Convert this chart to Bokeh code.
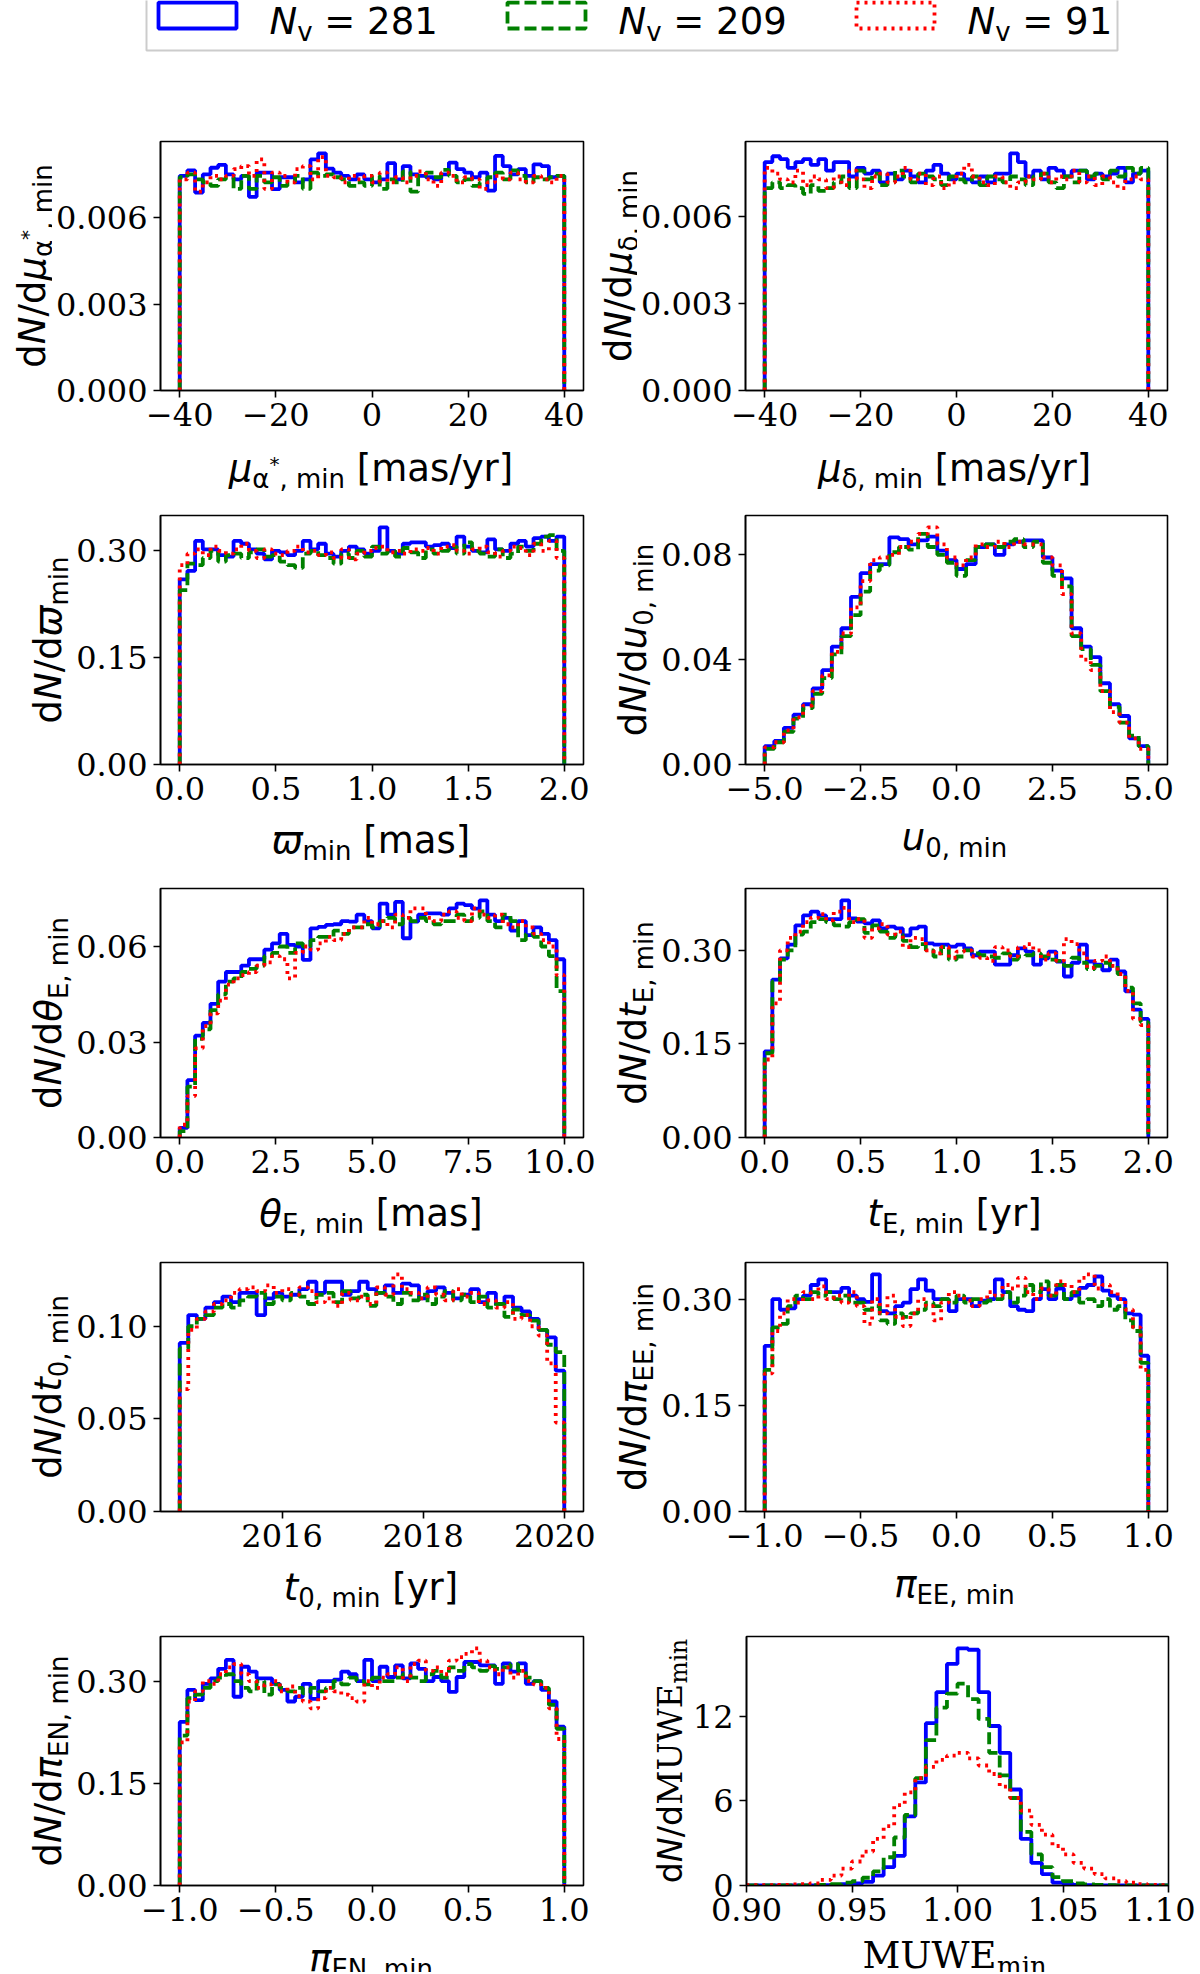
import math

import numpy as np
from bokeh.core.properties import value
from bokeh.embed import file_html
from bokeh.layouts import column, row
from bokeh.models import FixedTicker, Range1d
from bokeh.plotting import figure
from bokeh.resources import INLINE

BLUE, GREEN, RED = "#0000ff", "#008000", "#ff0000"
LEGEND_NAMES = ["281", "209", "91"]

# ---------------------------------------------------------------- data
# each panel: bin range, then density per bin for N_v = 281 / 209 / 91

MU_RA_RANGE = (-40.0, 40.0)
MU_RA_281 = [0.00745, 0.00764, 0.00687, 0.00750, 0.00773, 0.00783, 0.00750, 0.00733, 0.00745, 0.00672,
             0.00756, 0.00756, 0.00699, 0.00740, 0.00740, 0.00722, 0.00733, 0.00802, 0.00823, 0.00770,
             0.00756, 0.00745, 0.00733, 0.00750, 0.00733, 0.00722, 0.00733, 0.00789, 0.00733, 0.00779,
             0.00750, 0.00745, 0.00740, 0.00733, 0.00750, 0.00791, 0.00768, 0.00756, 0.00740, 0.00756,
             0.00694, 0.00814, 0.00779, 0.00750, 0.00768, 0.00745, 0.00785, 0.00779, 0.00740, 0.00745]
MU_RA_209 = [0.00740, 0.00750, 0.00733, 0.00722, 0.00710, 0.00733, 0.00740, 0.00700, 0.00745, 0.00700,
             0.00745, 0.00722, 0.00740, 0.00710, 0.00722, 0.00745, 0.00700, 0.00756, 0.00745, 0.00750,
             0.00740, 0.00733, 0.00710, 0.00722, 0.00710, 0.00745, 0.00700, 0.00733, 0.00722, 0.00760,
             0.00690, 0.00745, 0.00756, 0.00740, 0.00766, 0.00745, 0.00722, 0.00733, 0.00710, 0.00722,
             0.00740, 0.00756, 0.00733, 0.00764, 0.00745, 0.00722, 0.00740, 0.00733, 0.00740, 0.00745]
MU_RA_91 = [0.00733, 0.00756, 0.00690, 0.00722, 0.00745, 0.00733, 0.00745, 0.00768, 0.00779, 0.00745,
            0.00802, 0.00700, 0.00756, 0.00745, 0.00722, 0.00768, 0.00779, 0.00733, 0.00810, 0.00745,
            0.00740, 0.00722, 0.00745, 0.00733, 0.00745, 0.00722, 0.00756, 0.00722, 0.00740, 0.00722,
            0.00745, 0.00760, 0.00733, 0.00710, 0.00756, 0.00745, 0.00722, 0.00740, 0.00733, 0.00700,
            0.00722, 0.00745, 0.00733, 0.00756, 0.00733, 0.00722, 0.00745, 0.00733, 0.00722, 0.00745]

MU_DEC_RANGE = (-40.0, 40.0)
MU_DEC_281 = [0.00790, 0.00810, 0.00800, 0.00770, 0.00790, 0.00800, 0.00780, 0.00800, 0.00760, 0.00790,
              0.00790, 0.00740, 0.00770, 0.00750, 0.00760, 0.00720, 0.00750, 0.00730, 0.00760, 0.00740,
              0.00720, 0.00760, 0.00780, 0.00750, 0.00730, 0.00750, 0.00730, 0.00720, 0.00740, 0.00720,
              0.00750, 0.00750, 0.00820, 0.00790, 0.00740, 0.00760, 0.00730, 0.00770, 0.00760, 0.00740,
              0.00760, 0.00760, 0.00730, 0.00750, 0.00740, 0.00750, 0.00770, 0.00720, 0.00750, 0.00760]
MU_DEC_209 = [0.00700, 0.00720, 0.00700, 0.00710, 0.00700, 0.00680, 0.00710, 0.00690, 0.00700, 0.00720,
              0.00740, 0.00700, 0.00760, 0.00730, 0.00750, 0.00710, 0.00720, 0.00760, 0.00740, 0.00720,
              0.00750, 0.00740, 0.00730, 0.00710, 0.00740, 0.00730, 0.00720, 0.00740, 0.00710, 0.00740,
              0.00730, 0.00720, 0.00740, 0.00730, 0.00710, 0.00740, 0.00750, 0.00720, 0.00700, 0.00740,
              0.00720, 0.00760, 0.00740, 0.00750, 0.00730, 0.00760, 0.00740, 0.00770, 0.00750, 0.00770]
MU_DEC_91 = [0.00770, 0.00750, 0.00730, 0.00720, 0.00760, 0.00710, 0.00740, 0.00730, 0.00700, 0.00740,
             0.00710, 0.00760, 0.00730, 0.00700, 0.00740, 0.00750, 0.00720, 0.00740, 0.00770, 0.00730,
             0.00750, 0.00710, 0.00740, 0.00700, 0.00720, 0.00750, 0.00780, 0.00740, 0.00720, 0.00710,
             0.00740, 0.00720, 0.00700, 0.00720, 0.00740, 0.00730, 0.00750, 0.00720, 0.00740, 0.00730,
             0.00760, 0.00720, 0.00740, 0.00710, 0.00740, 0.00720, 0.00700, 0.00730, 0.00740, 0.00730]

PLX_RANGE = (0.0, 2.0)
PLX_281 = [0.260, 0.272, 0.314, 0.302, 0.302, 0.294, 0.292, 0.314, 0.310, 0.302,
           0.296, 0.288, 0.300, 0.298, 0.294, 0.300, 0.314, 0.302, 0.310, 0.296,
           0.292, 0.300, 0.306, 0.302, 0.296, 0.300, 0.333, 0.300, 0.296, 0.310,
           0.312, 0.312, 0.306, 0.308, 0.310, 0.304, 0.320, 0.306, 0.300, 0.298,
           0.316, 0.302, 0.300, 0.310, 0.314, 0.306, 0.318, 0.320, 0.314, 0.320]
PLX_209 = [0.245, 0.282, 0.280, 0.290, 0.300, 0.285, 0.294, 0.296, 0.290, 0.298,
           0.302, 0.292, 0.294, 0.285, 0.280, 0.276, 0.296, 0.300, 0.294, 0.290,
           0.282, 0.296, 0.290, 0.300, 0.292, 0.306, 0.296, 0.300, 0.292, 0.304,
           0.298, 0.290, 0.302, 0.296, 0.300, 0.306, 0.296, 0.312, 0.300, 0.296,
           0.292, 0.302, 0.290, 0.296, 0.306, 0.300, 0.310, 0.320, 0.322, 0.300]
PLX_91 = [0.280, 0.296, 0.302, 0.294, 0.306, 0.300, 0.296, 0.302, 0.310, 0.300,
          0.290, 0.302, 0.296, 0.294, 0.300, 0.306, 0.298, 0.300, 0.294, 0.298,
          0.290, 0.302, 0.288, 0.296, 0.300, 0.304, 0.306, 0.298, 0.300, 0.296,
          0.302, 0.300, 0.304, 0.296, 0.306, 0.308, 0.300, 0.296, 0.302, 0.306,
          0.298, 0.292, 0.300, 0.306, 0.304, 0.294, 0.310, 0.300, 0.314, 0.290]

U0_RANGE = (-5.0, 5.0)
U0_281 = [0.0070, 0.0090, 0.0140, 0.0190, 0.0230, 0.0290, 0.0360, 0.0450, 0.0520, 0.0640,
          0.0730, 0.0765, 0.0765, 0.0867, 0.0860, 0.0840, 0.0855, 0.0870, 0.0816, 0.0780,
          0.0746, 0.0765, 0.0830, 0.0840, 0.0800, 0.0840, 0.0850, 0.0855, 0.0855, 0.0790,
          0.0740, 0.0710, 0.0520, 0.0450, 0.0410, 0.0310, 0.0230, 0.0185, 0.0100, 0.0070]
U0_209 = [0.0060, 0.0085, 0.0125, 0.0175, 0.0215, 0.0270, 0.0330, 0.0420, 0.0490, 0.0570,
          0.0660, 0.0740, 0.0760, 0.0810, 0.0830, 0.0820, 0.0880, 0.0830, 0.0800, 0.0770,
          0.0720, 0.0780, 0.0830, 0.0840, 0.0830, 0.0850, 0.0860, 0.0830, 0.0850, 0.0770,
          0.0720, 0.0680, 0.0490, 0.0440, 0.0380, 0.0280, 0.0220, 0.0160, 0.0110, 0.0070]
U0_91 = [0.0065, 0.0085, 0.0130, 0.0180, 0.0225, 0.0280, 0.0340, 0.0430, 0.0500, 0.0600,
         0.0700, 0.0780, 0.0790, 0.0800, 0.0830, 0.0850, 0.0880, 0.0905, 0.0840, 0.0790,
         0.0760, 0.0790, 0.0840, 0.0830, 0.0850, 0.0830, 0.0850, 0.0840, 0.0840, 0.0790,
         0.0760, 0.0650, 0.0500, 0.0400, 0.0360, 0.0280, 0.0200, 0.0160, 0.0100, 0.0060]

THETA_RANGE = (0.0, 10.0)
THETA_281 = [0.0030, 0.0180, 0.0320, 0.0360, 0.0420, 0.0490, 0.0520, 0.0520, 0.0540, 0.0560,
             0.0560, 0.0590, 0.0610, 0.0640, 0.0605, 0.0600, 0.0558, 0.0657, 0.0662, 0.0668,
             0.0670, 0.0680, 0.0678, 0.0700, 0.0680, 0.0657, 0.0735, 0.0700, 0.0740, 0.0626,
             0.0678, 0.0700, 0.0704, 0.0704, 0.0700, 0.0720, 0.0735, 0.0730, 0.0719, 0.0745,
             0.0700, 0.0680, 0.0690, 0.0650, 0.0680, 0.0636, 0.0660, 0.0640, 0.0620, 0.0560]
THETA_209 = [0.0020, 0.0160, 0.0310, 0.0340, 0.0400, 0.0450, 0.0490, 0.0500, 0.0520, 0.0530,
             0.0540, 0.0570, 0.0580, 0.0600, 0.0580, 0.0610, 0.0600, 0.0620, 0.0630, 0.0630,
             0.0650, 0.0640, 0.0660, 0.0660, 0.0670, 0.0660, 0.0680, 0.0690, 0.0670, 0.0690,
             0.0680, 0.0690, 0.0680, 0.0670, 0.0680, 0.0680, 0.0700, 0.0680, 0.0690, 0.0710,
             0.0680, 0.0660, 0.0700, 0.0680, 0.0620, 0.0640, 0.0630, 0.0600, 0.0570, 0.0460]
THETA_91 = [0.0040, 0.0130, 0.0280, 0.0350, 0.0390, 0.0430, 0.0480, 0.0500, 0.0510, 0.0520,
            0.0540, 0.0550, 0.0570, 0.0560, 0.0500, 0.0580, 0.0600, 0.0590, 0.0610, 0.0630,
            0.0620, 0.0640, 0.0660, 0.0660, 0.0690, 0.0670, 0.0680, 0.0660, 0.0700, 0.0690,
            0.0720, 0.0720, 0.0690, 0.0680, 0.0700, 0.0710, 0.0690, 0.0680, 0.0720, 0.0700,
            0.0690, 0.0700, 0.0670, 0.0660, 0.0680, 0.0660, 0.0640, 0.0620, 0.0600, 0.0510]

TE_RANGE = (0.0, 2.0)
TE_281 = [0.138, 0.253, 0.287, 0.309, 0.340, 0.356, 0.362, 0.356, 0.350, 0.350,
          0.380, 0.351, 0.346, 0.343, 0.348, 0.335, 0.338, 0.335, 0.324, 0.335,
          0.338, 0.311, 0.309, 0.309, 0.306, 0.309, 0.303, 0.292, 0.298, 0.298,
          0.277, 0.277, 0.292, 0.303, 0.298, 0.277, 0.287, 0.298, 0.282, 0.258,
          0.280, 0.309, 0.282, 0.277, 0.268, 0.285, 0.266, 0.234, 0.205, 0.190]
TE_209 = [0.135, 0.250, 0.285, 0.300, 0.325, 0.330, 0.345, 0.350, 0.345, 0.340,
          0.338, 0.345, 0.350, 0.328, 0.340, 0.330, 0.320, 0.325, 0.315, 0.305,
          0.310, 0.300, 0.290, 0.305, 0.285, 0.290, 0.300, 0.295, 0.292, 0.290,
          0.288, 0.295, 0.285, 0.290, 0.292, 0.295, 0.290, 0.285, 0.283, 0.275,
          0.288, 0.280, 0.270, 0.275, 0.280, 0.275, 0.262, 0.240, 0.215, 0.185]
TE_91 = [0.125, 0.215, 0.300, 0.320, 0.330, 0.345, 0.352, 0.358, 0.348, 0.362,
         0.368, 0.345, 0.350, 0.320, 0.335, 0.342, 0.325, 0.330, 0.305, 0.320,
         0.318, 0.300, 0.295, 0.305, 0.288, 0.298, 0.300, 0.290, 0.288, 0.283,
         0.305, 0.300, 0.290, 0.305, 0.310, 0.300, 0.285, 0.295, 0.283, 0.318,
         0.310, 0.295, 0.272, 0.283, 0.290, 0.275, 0.262, 0.235, 0.190, 0.180]

T0_RANGE = (2014.55, 2020.0)
T0_281 = [0.091, 0.106, 0.104, 0.110, 0.113, 0.116, 0.113, 0.118, 0.118, 0.106,
          0.115, 0.118, 0.116, 0.117, 0.120, 0.124, 0.118, 0.124, 0.124, 0.117,
          0.119, 0.124, 0.120, 0.118, 0.122, 0.118, 0.123, 0.122, 0.115, 0.119,
          0.121, 0.118, 0.115, 0.117, 0.120, 0.113, 0.118, 0.112, 0.116, 0.110,
          0.108, 0.104, 0.098, 0.094, 0.076]
T0_209 = [0.088, 0.100, 0.104, 0.106, 0.110, 0.112, 0.110, 0.114, 0.116, 0.118,
          0.112, 0.116, 0.114, 0.118, 0.116, 0.112, 0.117, 0.118, 0.113, 0.119,
          0.115, 0.117, 0.111, 0.118, 0.116, 0.112, 0.118, 0.114, 0.117, 0.112,
          0.116, 0.119, 0.114, 0.117, 0.113, 0.116, 0.110, 0.112, 0.105, 0.109,
          0.106, 0.103, 0.098, 0.090, 0.086]
T0_91 = [0.066, 0.098, 0.104, 0.108, 0.112, 0.114, 0.118, 0.120, 0.121, 0.119,
         0.122, 0.118, 0.120, 0.117, 0.121, 0.119, 0.113, 0.115, 0.111, 0.118,
         0.114, 0.116, 0.112, 0.121, 0.117, 0.128, 0.120, 0.118, 0.115, 0.121,
         0.117, 0.114, 0.120, 0.116, 0.118, 0.112, 0.114, 0.110, 0.113, 0.104,
         0.106, 0.100, 0.095, 0.080, 0.048]

PIEE_RANGE = (-1.0, 1.0)
PIEE_281 = [0.234, 0.300, 0.285, 0.287, 0.300, 0.305, 0.320, 0.328, 0.310, 0.310,
            0.316, 0.305, 0.300, 0.296, 0.335, 0.283, 0.280, 0.290, 0.295, 0.314,
            0.328, 0.312, 0.300, 0.300, 0.283, 0.300, 0.300, 0.290, 0.298, 0.300,
            0.328, 0.310, 0.290, 0.285, 0.283, 0.300, 0.314, 0.300, 0.315, 0.300,
            0.305, 0.316, 0.320, 0.332, 0.312, 0.305, 0.300, 0.280, 0.278, 0.220]
PIEE_209 = [0.200, 0.260, 0.265, 0.290, 0.305, 0.300, 0.310, 0.305, 0.310, 0.300,
            0.305, 0.295, 0.295, 0.285, 0.290, 0.270, 0.265, 0.280, 0.275, 0.280,
            0.285, 0.295, 0.290, 0.300, 0.295, 0.305, 0.295, 0.300, 0.295, 0.298,
            0.300, 0.310, 0.295, 0.305, 0.320, 0.310, 0.325, 0.305, 0.320, 0.300,
            0.310, 0.295, 0.300, 0.290, 0.300, 0.285, 0.290, 0.270, 0.255, 0.210]
PIEE_91 = [0.195, 0.255, 0.280, 0.300, 0.295, 0.310, 0.300, 0.318, 0.300, 0.305,
           0.295, 0.310, 0.290, 0.265, 0.300, 0.280, 0.305, 0.275, 0.262, 0.280,
           0.300, 0.290, 0.270, 0.295, 0.310, 0.305, 0.298, 0.290, 0.300, 0.310,
           0.305, 0.320, 0.315, 0.330, 0.310, 0.300, 0.315, 0.305, 0.325, 0.320,
           0.310, 0.330, 0.335, 0.315, 0.320, 0.310, 0.300, 0.285, 0.260, 0.200]

PIEN_RANGE = (-1.0, 1.0)
PIEN_281 = [0.240, 0.287, 0.272, 0.296, 0.304, 0.318, 0.331, 0.277, 0.321, 0.314,
            0.304, 0.304, 0.296, 0.287, 0.270, 0.277, 0.296, 0.274, 0.300, 0.300,
            0.302, 0.314, 0.310, 0.300, 0.331, 0.300, 0.321, 0.306, 0.323, 0.304,
            0.326, 0.318, 0.300, 0.306, 0.300, 0.284, 0.306, 0.328, 0.328, 0.323,
            0.323, 0.296, 0.326, 0.314, 0.326, 0.296, 0.300, 0.287, 0.270, 0.233]
PIEN_209 = [0.220, 0.275, 0.280, 0.290, 0.300, 0.305, 0.310, 0.300, 0.290, 0.285,
            0.300, 0.280, 0.295, 0.290, 0.285, 0.290, 0.282, 0.290, 0.285, 0.290,
            0.300, 0.295, 0.305, 0.300, 0.295, 0.305, 0.300, 0.300, 0.305, 0.310,
            0.305, 0.300, 0.310, 0.315, 0.305, 0.320, 0.315, 0.325, 0.320, 0.315,
            0.322, 0.318, 0.320, 0.325, 0.315, 0.305, 0.300, 0.290, 0.265, 0.230]
PIEN_91 = [0.210, 0.270, 0.285, 0.300, 0.296, 0.310, 0.320, 0.325, 0.310, 0.300,
           0.290, 0.295, 0.300, 0.285, 0.292, 0.278, 0.270, 0.260, 0.275, 0.290,
           0.285, 0.280, 0.275, 0.270, 0.300, 0.290, 0.305, 0.310, 0.320, 0.300,
           0.325, 0.330, 0.315, 0.320, 0.310, 0.330, 0.335, 0.340, 0.348, 0.330,
           0.320, 0.310, 0.320, 0.305, 0.315, 0.300, 0.295, 0.290, 0.260, 0.215]

MUWE_RANGE = (0.9, 1.1)
MUWE_281 = [0.0, 0.0, 0.0, 0.0, 0.0, 0.0, 0.0, 0.02, 0.05, 0.10,
            0.15, 0.25, 0.70, 1.30, 2.10, 4.90, 7.30, 11.5, 13.7, 15.7,
            16.8, 16.7, 13.7, 11.3, 9.40, 6.80, 3.30, 1.60, 0.80, 0.20,
            0.10, 0.05, 0.02, 0.0, 0.0, 0.0, 0.0, 0.0, 0.0, 0.0]
MUWE_209 = [0.0, 0.0, 0.0, 0.0, 0.0, 0.0, 0.02, 0.05, 0.10, 0.20,
            0.30, 0.55, 1.00, 2.00, 3.40, 5.00, 7.60, 10.3, 12.6, 13.6,
            14.3, 13.2, 11.8, 9.40, 7.80, 6.20, 3.80, 2.20, 1.30, 0.60,
            0.30, 0.15, 0.08, 0.04, 0.02, 0.0, 0.0, 0.0, 0.0, 0.0]
MUWE_91 = [0.02, 0.02, 0.03, 0.05, 0.07, 0.10, 0.15, 0.40, 0.70, 1.20,
           1.70, 2.40, 3.30, 4.20, 5.70, 6.60, 7.60, 8.40, 8.90, 9.20,
           9.40, 9.00, 8.50, 7.90, 7.00, 6.20, 5.30, 4.30, 3.60, 2.80,
           2.20, 1.60, 1.20, 0.80, 0.50, 0.30, 0.20, 0.10, 0.05, 0.03]

# tick positions and their labels
TICKS_MU = [-40, -20, 0, 20, 40]
LABELS_MU = ["\u221240", "\u221220", "0", "20", "40"]
TICKS_02 = [0, 0.5, 1, 1.5, 2]
LABELS_02 = ["0.0", "0.5", "1.0", "1.5", "2.0"]
TICKS_U0 = [-5, -2.5, 0, 2.5, 5]
LABELS_U0 = ["\u22125.0", "\u22122.5", "0.0", "2.5", "5.0"]
TICKS_THETA = [0, 2.5, 5, 7.5, 10]
LABELS_THETA = ["0.0", "2.5", "5.0", "7.5", "10.0"]
TICKS_T0 = [2016, 2018, 2020]
LABELS_T0 = ["2016", "2018", "2020"]
TICKS_PI = [-1, -0.5, 0, 0.5, 1]
LABELS_PI = ["\u22121.0", "\u22120.5", "0.0", "0.5", "1.0"]
TICKS_MUWE = [0.9, 0.95, 1.0, 1.05, 1.1]
LABELS_MUWE = ["0.90", "0.95", "1.00", "1.05", "1.10"]

YTICKS_MU = [0, 0.003, 0.006]
YLABELS_MU = ["0.000", "0.003", "0.006"]
YTICKS_30 = [0, 0.15, 0.30]
YLABELS_30 = ["0.00", "0.15", "0.30"]
YTICKS_U0 = [0, 0.04, 0.08]
YLABELS_U0 = ["0.00", "0.04", "0.08"]
YTICKS_THETA = [0, 0.03, 0.06]
YLABELS_THETA = ["0.00", "0.03", "0.06"]
YTICKS_T0 = [0, 0.05, 0.10]
YLABELS_T0 = ["0.00", "0.05", "0.10"]
YTICKS_MUWE = [0, 6, 12]
YLABELS_MUWE = ["0", "6", "12"]

# ---------------------------------------------------------------- text helpers
# advance widths (em) of DejaVu Sans / DejaVu Serif, to chain text pieces
SANS = {" ": 0.318, ",": 0.318, "*": 0.5, "/": 0.337, "[": 0.39, "]": 0.39, "=": 0.838,
        "0": 0.636, "1": 0.636, "2": 0.636, "8": 0.636, "9": 0.636,
        "E": 0.632, "N": 0.748, "a": 0.613, "d": 0.635, "i": 0.278, "m": 0.974,
        "n": 0.634, "r": 0.411, "s": 0.521, "t": 0.392, "u": 0.634, "v": 0.592,
        "y": 0.592, "\u03bc": 0.636, "\u03b1": 0.659, "\u03b4": 0.612,
        "\u03b8": 0.612, "\u03c0": 0.602, "\u03d6": 0.83}
SERIF = {"M": 0.995, "U": 0.812, "W": 1.103, "E": 0.730, "m": 0.959, "i": 0.320, "n": 0.644}

KIND = {
    "rm": ("DejaVu Sans", 37, "normal", 0),
    "it": ("DejaVu Sans", 37, "italic", 0),
    "sub": ("DejaVu Sans", 26, "normal", 8),
    "star": ("DejaVu Sans", 20, "normal", -8),
    "srm": ("DejaVu Serif", 37, "normal", 0),
    "ssub": ("DejaVu Serif", 26, "normal", 8),
}
MID = 0.19  # where bokeh's "middle" anchor sits above the baseline, in em


def text_width(text, kind, scale=1.0):
    font, size, style, shift = KIND[kind]
    table = SERIF if font == "DejaVu Serif" else SANS
    return scale * size * sum(table.get(ch, 0.6) for ch in text)


def put_math(p, pieces, x, y, vertical=False, centre=True, down=-1, scale=1.0):
    """Write a label made of pieces (text, kind), each with its own font.

    (x, y) is the baseline point in the data coordinates of p (pixels here);
    each piece is anchored at its own centre.
    """
    widths = [text_width(t, k, scale) for t, k in pieces]
    pos = (y if vertical else x) - (sum(widths) / 2 if centre else 0)
    for (text, kind), w in zip(pieces, widths):
        font, size, style, shift = KIND[kind]
        size, shift = size * scale, shift * scale
        body = text.lstrip(" ")
        lead = text_width(text[:len(text) - len(body)], kind, scale)
        mid_along = pos + lead + (w - lead) / 2
        if vertical:
            lx, ly, ang = x + shift - MID * size, mid_along, math.pi / 2
        else:
            lx, ly, ang = mid_along, y + down * (shift - MID * size), 0.0
        p.text(x=[lx], y=[ly], text=[body], angle=ang,
               text_font=value(font), text_font_size=value(f"{size:.1f}px"),
               text_font_style=value(style), text_color="black",
               text_align="center", text_baseline="middle")
        pos += w


DNDX = [("d", "rm"), ("N", "it"), ("/d", "rm")]


def outline(lo, hi, vals):
    # matplotlib histtype="step" outline
    edges = np.linspace(lo, hi, len(vals) + 1)
    xs, ys = [edges[0]], [0.0]
    for i, v in enumerate(vals):
        xs += [edges[i], edges[i + 1]]
        ys += [v, v]
    xs.append(edges[-1])
    ys.append(0.0)
    return xs, ys


# border = room left of the frame for ticks + tick labels; ylab_x = page x of y-label baseline;
# xbase = distance of x-label baseline under the frame
PANELS = [
    dict(rng=MU_RA_RANGE, data=(MU_RA_281, MU_RA_209, MU_RA_91), xt=(TICKS_MU, LABELS_MU),
         yt=(YTICKS_MU, YLABELS_MU), border=107, ylab_x=39, xbase=85,
         ylab=DNDX + [("\u03bc", "it"), ("\u03b1", "sub"), ("*", "star"), (", min", "sub")],
         xlab=[("\u03bc", "it"), ("\u03b1", "sub"), ("*", "star"), (", min", "sub"), (" [mas/yr]", "rm")]),
    dict(rng=MU_DEC_RANGE, data=(MU_DEC_281, MU_DEC_209, MU_DEC_91), xt=(TICKS_MU, LABELS_MU),
         yt=(YTICKS_MU, YLABELS_MU), border=107, ylab_x=624, xbase=85,
         ylab=DNDX + [("\u03bc", "it"), ("\u03b4, min", "sub")],
         xlab=[("\u03bc", "it"), ("\u03b4, min", "sub"), (" [mas/yr]", "rm")]),
    dict(rng=PLX_RANGE, data=(PLX_281, PLX_209, PLX_91), xt=(TICKS_02, LABELS_02),
         yt=(YTICKS_30, YLABELS_30), border=86, ylab_x=55, xbase=83,
         ylab=DNDX + [("\u03d6", "it"), ("min", "sub")],
         xlab=[("\u03d6", "it"), ("min", "sub"), (" [mas]", "rm")]),
    dict(rng=U0_RANGE, data=(U0_281, U0_209, U0_91), xt=(TICKS_U0, LABELS_U0),
         yt=(YTICKS_U0, YLABELS_U0), border=86, ylab_x=639, xbase=80,
         ylab=DNDX + [("u", "it"), ("0, min", "sub")],
         xlab=[("u", "it"), ("0, min", "sub")]),
    dict(rng=THETA_RANGE, data=(THETA_281, THETA_209, THETA_91), xt=(TICKS_THETA, LABELS_THETA),
         yt=(YTICKS_THETA, YLABELS_THETA), border=86, ylab_x=55, xbase=83,
         ylab=DNDX + [("\u03b8", "it"), ("E, min", "sub")],
         xlab=[("\u03b8", "it"), ("E, min", "sub"), (" [mas]", "rm")]),
    dict(rng=TE_RANGE, data=(TE_281, TE_209, TE_91), xt=(TICKS_02, LABELS_02),
         yt=(YTICKS_30, YLABELS_30), border=86, ylab_x=639, xbase=83,
         ylab=DNDX + [("t", "it"), ("E, min", "sub")],
         xlab=[("t", "it"), ("E, min", "sub"), (" [yr]", "rm")]),
    dict(rng=T0_RANGE, data=(T0_281, T0_209, T0_91), xt=(TICKS_T0, LABELS_T0),
         yt=(YTICKS_T0, YLABELS_T0), border=86, ylab_x=55, xbase=83,
         ylab=DNDX + [("t", "it"), ("0, min", "sub")],
         xlab=[("t", "it"), ("0, min", "sub"), (" [yr]", "rm")]),
    dict(rng=PIEE_RANGE, data=(PIEE_281, PIEE_209, PIEE_91), xt=(TICKS_PI, LABELS_PI),
         yt=(YTICKS_30, YLABELS_30), border=86, ylab_x=639, xbase=80,
         ylab=DNDX + [("\u03c0", "it"), ("EE, min", "sub")],
         xlab=[("\u03c0", "it"), ("EE, min", "sub")]),
    dict(rng=PIEN_RANGE, data=(PIEN_281, PIEN_209, PIEN_91), xt=(TICKS_PI, LABELS_PI),
         yt=(YTICKS_30, YLABELS_30), border=86, ylab_x=55, xbase=80,
         ylab=DNDX + [("\u03c0", "it"), ("EN, min", "sub")],
         xlab=[("\u03c0", "it"), ("EN, min", "sub")]),
    dict(rng=MUWE_RANGE, data=(MUWE_281, MUWE_209, MUWE_91), xt=(TICKS_MUWE, LABELS_MUWE),
         yt=(YTICKS_MUWE, YLABELS_MUWE), border=55, ylab_x=675, xbase=77, tight=True,
         yscale=0.9,
         ylab=DNDX + [("MUWE", "srm"), ("min", "ssub")],
         xlab=[("MUWE", "srm"), ("min", "ssub")]),
]

# page geometry (px); bokeh's page has no body margin, so page pixels start at 0
COL_START = [0, 594]
COL_WIDTH = [594, 598]
FRAME_LEFT = [159, 743]
FRAME_W = [423, 422]
FRAME_H = 249
TOP = 20
LEGEND_H = 121
ROW_BOT = [54, 54, 54, 54, 50]
ROW_PITCH = [374, 373, 374, 374, 356]
LINE_W = 3.8


def strip(width, height, top=0, bottom=0):
    # blank figure whose data units are pixels from the bottom-left of its frame
    s = figure(width=width, height=height, x_range=Range1d(0, width),
               y_range=Range1d(0, height - top - bottom), title=None,
               x_axis_type=None, y_axis_type=None, toolbar_location=None, tools="",
               output_backend="svg", min_border=0, min_border_top=top, min_border_bottom=bottom)
    s.xgrid.visible = False
    s.ygrid.visible = False
    s.outline_line_color = None
    return s


def make_panel(spec, c, bot):
    lo, hi = spec["rng"]
    span = hi - lo
    pad = 0 if spec.get("tight") else 0.05 * span
    ymax = 1.05 * max(max(s) for s in spec["data"])
    right = COL_START[c] + COL_WIDTH[c] - FRAME_LEFT[c] - FRAME_W[c]
    p = figure(frame_width=FRAME_W[c], frame_height=FRAME_H, title=None,
               min_border_left=spec["border"], min_border_right=right,
               min_border_top=TOP, min_border_bottom=bot,
               x_range=Range1d(lo - pad, hi + pad), y_range=Range1d(0, ymax),
               toolbar_location=None, tools="", output_backend="svg")
    p.xgrid.visible = False
    p.ygrid.visible = False
    p.outline_line_color = "black"
    p.outline_line_width = 1.6

    for ax, (ticks, labels) in ((p.xaxis, spec["xt"]), (p.yaxis, spec["yt"])):
        ax.ticker = FixedTicker(ticks=ticks)
        ax.major_label_overrides = dict(zip(ticks, labels))
        ax.axis_line_width = 1.6
        ax.major_tick_line_width = 1.6
        ax.major_tick_out = 7
        ax.major_tick_in = 0
        ax.minor_tick_line_color = None
        ax.major_label_text_font = "DejaVu Serif"
        ax.major_label_text_font_size = "32px"
        ax.major_label_text_color = "black"
    p.xaxis.major_label_standoff = 5
    p.yaxis.major_label_standoff = 6

    styles = [(BLUE, None), (GREEN, "12 5"), (RED, "3 5")]
    for vals, (colour, dash) in zip(spec["data"], styles):
        xs, ys = outline(lo, hi, vals)
        if dash:
            p.line(xs, ys, line_color=colour, line_width=LINE_W, line_dash=dash)
        else:
            p.line(xs, ys, line_color=colour, line_width=LINE_W)

    # y-label in its own strip left of the panel; its frame lines up with the panel frame
    fig_h = TOP + FRAME_H + bot
    ylab = strip(FRAME_LEFT[c] - COL_START[c] - spec["border"], fig_h, top=TOP, bottom=bot)
    put_math(ylab, spec["ylab"], spec["ylab_x"] - COL_START[c], FRAME_H / 2, vertical=True,
             scale=spec.get("yscale", 1.0))
    return ylab, p


# ---------------------------------------------------------------- legend strip
# data coordinates of this strip are page pixels (y downwards)
page_w = COL_WIDTH[0] + COL_WIDTH[1]
legend = figure(width=page_w, height=LEGEND_H, x_range=Range1d(0, page_w),
                y_range=Range1d(LEGEND_H, 0), title=None, x_axis_type=None, y_axis_type=None,
                toolbar_location=None, tools="", output_backend="svg", min_border=0)
legend.xgrid.visible = False
legend.ygrid.visible = False
legend.outline_line_color = None
legend.quad(left=146, right=1117, top=-20, bottom=50, fill_color="white",
            line_color="#cccccc", line_width=2)
patch_x = [158, 507, 856]
text_x = [269, 618, 967]
for i, (colour, dash) in enumerate([(BLUE, "solid"), (GREEN, "12 5"), (RED, "3 5")]):
    legend.quad(left=patch_x[i], right=patch_x[i] + 78, top=2, bottom=28, fill_alpha=0,
                line_color=colour, line_width=LINE_W, line_dash=dash)
    put_math(legend, [("N", "it"), ("v", "sub"), (" = " + LEGEND_NAMES[i], "rm")],
             text_x[i], 28, centre=False, down=1)

blocks = [legend]
for r in range(5):
    top_row, label_row = [], []
    bot = ROW_BOT[r]
    xs_h = ROW_PITCH[r] - (TOP + FRAME_H + bot)
    for c in range(2):
        spec = PANELS[2 * r + c]
        ylab, p = make_panel(spec, c, bot)
        top_row += [ylab, p]
        xl = strip(COL_WIDTH[c], xs_h)
        cx = FRAME_LEFT[c] - COL_START[c] + FRAME_W[c] / 2
        put_math(xl, spec["xlab"], cx, xs_h - (spec["xbase"] - bot))
        label_row.append(xl)
    blocks.append(row(*top_row))
    blocks.append(row(*label_row))

page = column(*blocks)
open("out.html", "w").write(file_html(page, INLINE))
